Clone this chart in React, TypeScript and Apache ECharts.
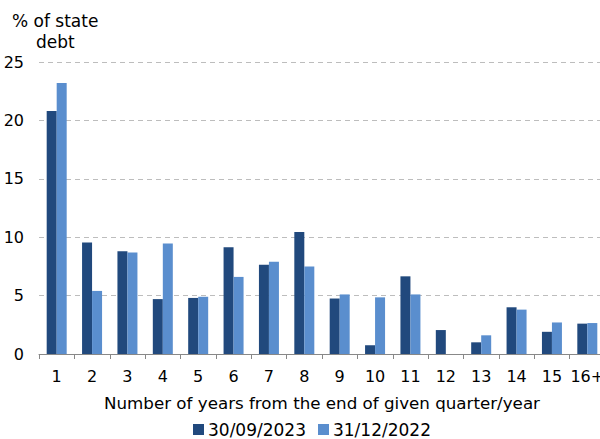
import React, { useEffect, useRef } from "react";
import * as echarts from "echarts";

const categories = ["1", "2", "3", "4", "5", "6", "7", "8", "9", "10", "11", "12", "13", "14", "15", "16+"];
const series2023 = [20.8, 9.55, 8.8, 4.7, 4.8, 9.15, 7.65, 10.45, 4.75, 0.75, 6.65, 2.05, 1.0, 4.0, 1.9, 2.6];
const series2022 = [23.2, 5.4, 8.7, 9.45, 4.9, 6.6, 7.9, 7.5, 5.1, 4.85, 5.1, 0, 1.6, 3.8, 2.7, 2.65];
const seriesNames = ["30/09/2023", "31/12/2022"];
const yTicks = { min: 0, max: 25, interval: 5 };

const FONT = "DejaVu Sans, Verdana, sans-serif";

export default function App() {
  const ref = useRef<HTMLDivElement>(null);
  useEffect(() => {
    if (!ref.current) return;
    const chart = echarts.init(ref.current, null, { renderer: "svg" });
    chart.setOption({
      animation: false,
      textStyle: { fontFamily: FONT },
      grid: { left: 39, right: -5, top: 62, bottom: 85, containLabel: false, outerBoundsMode: "none" },
      legend: {
        top: 421,
        left: 193,
        itemWidth: 11,
        itemHeight: 11,
        itemGap: 12,
        icon: "rect",
        padding: 0,
        textStyle: { fontFamily: FONT, fontSize: 17, color: "#000", padding: [0, 0, 0, -1] },
        data: seriesNames,
      },
      graphic: [
        {
          type: "text",
          left: 12,
          top: 12,
          style: { text: "% of state", font: `17px ${FONT}`, fill: "#000" },
        },
        {
          type: "text",
          left: 36,
          top: 33,
          style: { text: "debt", font: `17px ${FONT}`, fill: "#000" },
        },
      ],
      xAxis: {
        type: "category",
        data: categories,
        name: "Number of years from the end of given quarter/year",
        nameLocation: "middle",
        nameGap: 40,
        nameTextStyle: { fontFamily: FONT, fontSize: 16.7, color: "#000" },
        axisLine: { lineStyle: { color: "#888", width: 1 } },
        axisTick: { show: true, length: 5, lineStyle: { color: "#888" } },
        axisLabel: { color: "#000", fontSize: 16, fontFamily: FONT, margin: 14, interval: 0 },
      },
      yAxis: {
        type: "value",
        min: yTicks.min,
        max: yTicks.max,
        interval: yTicks.interval,
        axisLine: { show: false },
        axisTick: { show: false },
        axisLabel: { color: "#000", fontSize: 16, fontFamily: FONT, margin: 15 },
        splitLine: { lineStyle: { color: "#bdbdbd", type: [5, 4], width: 1 } },
      },
      series: [
        {
          name: seriesNames[0],
          type: "bar",
          data: series2023,
          barWidth: 10,
          barGap: "0%",
          itemStyle: { color: "#21497D" },
        },
        {
          name: seriesNames[1],
          type: "bar",
          data: series2022,
          barWidth: 10,
          barGap: "0%",
          itemStyle: { color: "#5A8ECE" },
        },
      ],
    });
    return () => chart.dispose();
  }, []);
  return (
    <div
      ref={ref}
      style={{ position: "fixed", left: 0, top: 0, width: 600, height: 439, background: "#fff" }}
    />
  );
}
